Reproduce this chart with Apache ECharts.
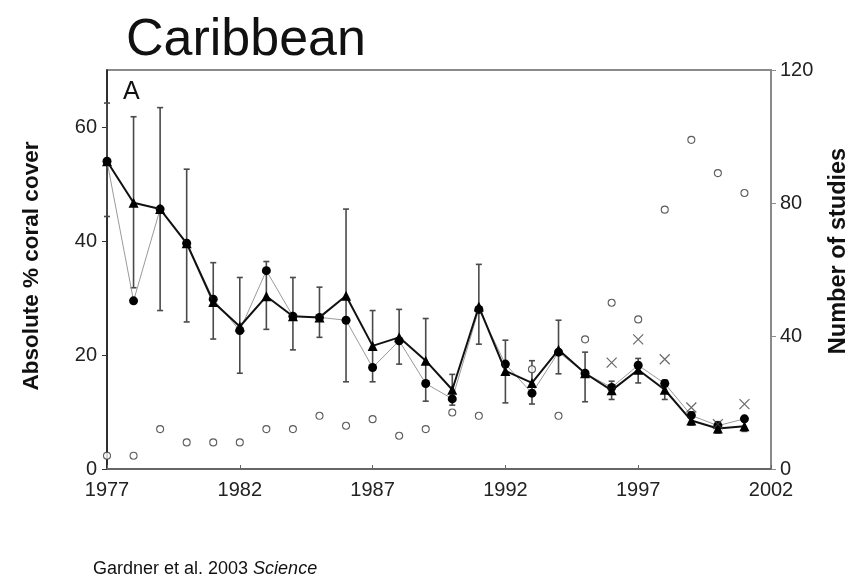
<!DOCTYPE html>
<html>
<head>
<meta charset="utf-8">
<script src="https://cdn.jsdelivr.net/npm/echarts@6/dist/echarts.min.js"></script>
<style>html,body{margin:0;padding:0;background:#fff;}#c{width:852px;height:584px;}</style>
</head>
<body>
<div id="c"></div>
<script>
const years = [1977,1978,1979,1980,1981,1982,1983,1984,1985,1986,1987,1988,1989,1990,1991,1992,1993,1994,1995,1996,1997,1998,1999,2000,2001];
const coverTriangle = [54,46.7,45.6,39.6,29.3,25.0,30.3,26.8,26.6,30.4,21.6,23.1,19.0,13.9,28.5,17.2,15.1,20.9,16.8,13.8,17.4,13.9,8.5,7.1,7.5];
const coverCircle = [54,29.5,45.6,39.6,29.8,24.3,34.8,26.8,26.6,26.1,17.8,22.5,15.0,12.3,28.0,18.4,13.3,20.5,16.8,14.3,18.2,15.0,9.4,7.6,8.8];
const errHigh = [64.2,61.8,63.4,52.6,36.2,33.6,36.4,33.6,31.9,45.6,27.8,28.0,26.4,16.6,35.9,22.6,19.0,26.1,20.5,15.4,19.4,15.6,10.0,8.3,8.5];
const errLow = [44.3,31.8,27.8,25.8,22.8,16.8,24.5,20.9,23.1,15.3,15.3,18.4,11.9,11.2,21.9,11.6,11.4,16.7,11.8,12.2,15.1,12.2,7.7,6.3,6.6];
const studies = [4,4,12,8,8,8,12,12,16,13,15,10,12,17,16,null,30,16,39,50,45,78,99,89,83];
const crossYears = [1996,1997,1998,1999,2000,2001];
const crossValues = [32,39,33,18.5,13.5,19.5];
const xTicks = [1977,1982,1987,1992,1997,2002];

const pairs = (xs, ys) => xs.map((x,i) => [x, ys[i]]);
const errData = years.map((y,i) => [y, errLow[i], errHigh[i]]);
const FONT = '"Liberation Sans", Arial, sans-serif';

const chart = echarts.init(document.getElementById('c'), null, {renderer:'canvas'});
chart.setOption({
  backgroundColor:'#fff',
  animation:false,
  title:{text:'Caribbean', left:121, top:10, textStyle:{fontFamily:FONT, fontSize:52, fontWeight:'normal', color:'#111'}},
  grid:{left:107, right:81, top:70, bottom:115, show:true, borderColor:'#8a8a8a', borderWidth:2, backgroundColor:'transparent'},
  xAxis:{type:'value', min:1977, max:2002, interval:5,
    axisLine:{lineStyle:{color:'#666', width:2}},
    axisTick:{inside:true, length:4, lineStyle:{color:'#666'}},
    axisLabel:{fontFamily:FONT, fontSize:20, color:'#222', margin:11, formatter:v=>String(v)},
    splitLine:{show:false}},
  yAxis:[
    {type:'value', min:0, max:70, interval:20, position:'left',
      axisLine:{show:true, lineStyle:{color:'#111', width:1.5}},
      axisTick:{show:true, length:5, lineStyle:{color:'#333'}},
      axisLabel:{fontFamily:FONT, fontSize:20, color:'#222', margin:10, showMaxLabel:false},
      splitLine:{show:false}},
    {type:'value', min:0, max:120, interval:40, position:'right',
      axisLine:{show:true, lineStyle:{color:'#8a8a8a', width:2}},
      axisTick:{show:true, length:5, lineStyle:{color:'#8a8a8a'}},
      axisLabel:{fontFamily:FONT, fontSize:20, color:'#222', margin:9},
      splitLine:{show:false}}
  ],
  graphic:[
    {type:'text', x:32, y:266, rotation:Math.PI/2, style:{text:'Absolute % coral cover', font:'bold 22.5px "Liberation Sans", Arial, sans-serif', fill:'#111', textAlign:'center', textVerticalAlign:'middle'}},
    {type:'text', x:839, y:251, rotation:Math.PI/2, style:{text:'Number of studies', font:'bold 23.5px "Liberation Sans", Arial, sans-serif', fill:'#111', textAlign:'center', textVerticalAlign:'middle'}},
    {type:'text', x:123, y:80, style:{text:'A', font:'25px "Liberation Sans", Arial, sans-serif', fill:'#111', textAlign:'left', textVerticalAlign:'top'}},
    {type:'text', x:93, y:560, style:{rich:{n:{fontFamily:FONT, fontSize:18, fill:'#111'}, i:{fontFamily:FONT, fontSize:18, fontStyle:'italic', fill:'#111'}}, text:'{n|Gardner et al. 2003 }{i|Science}', textAlign:'left', textVerticalAlign:'top'}}
  ],
  series:[
    {type:'custom', yAxisIndex:0, data:errData, z:2, silent:true,
      renderItem:(params, api) => {
        const x = api.value(0);
        const lo = api.coord([x, api.value(1)]);
        const hi = api.coord([x, api.value(2)]);
        const w = 3;
        const st = {stroke:'#4a4a4a', lineWidth:1.6};
        return {type:'group', children:[
          {type:'line', shape:{x1:lo[0], y1:lo[1], x2:hi[0], y2:hi[1]}, style:st},
          {type:'line', shape:{x1:lo[0]-w, y1:lo[1], x2:lo[0]+w, y2:lo[1]}, style:st},
          {type:'line', shape:{x1:hi[0]-w, y1:hi[1], x2:hi[0]+w, y2:hi[1]}, style:st}
        ]};
      }},
    {type:'line', yAxisIndex:0, data:pairs(years, coverCircle), z:3,
      lineStyle:{color:'#9a9a9a', width:1}, symbol:'circle', symbolSize:9,
      itemStyle:{color:'#000'}},
    {type:'line', yAxisIndex:0, data:pairs(years, coverTriangle), z:4,
      lineStyle:{color:'#111', width:2}, symbol:'triangle', symbolSize:10,
      itemStyle:{color:'#000'}},
    {type:'scatter', yAxisIndex:1, data:pairs(years, studies).filter(d=>d[1]!==null), z:5,
      symbol:'circle', symbolSize:7,
      itemStyle:{color:'#fff', borderColor:'#333', borderWidth:1.1}},
    {type:'scatter', yAxisIndex:1, data:pairs(crossYears, crossValues), z:5,
      symbol:'path://M0,0L10,10M10,0L0,10', symbolSize:10,
      itemStyle:{color:'none', borderColor:'#444', borderWidth:1.2}}
  ]
});
</script>
</body>
</html>
